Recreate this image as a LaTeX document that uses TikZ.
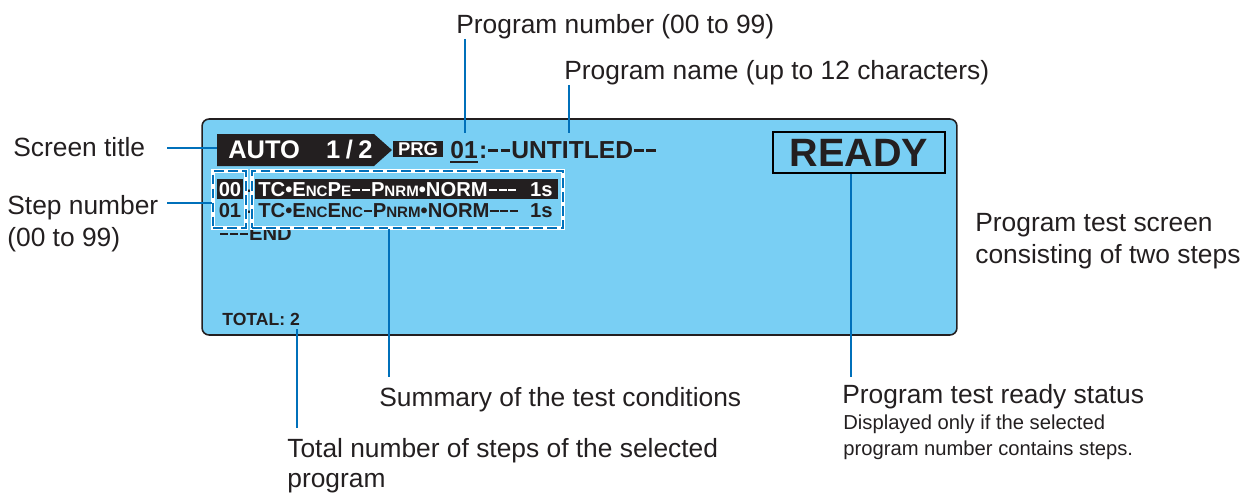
\documentclass[tikz,border=0pt]{standalone}
\usepackage{fontspec}
\usepackage{graphicx}
\setmainfont{Liberation Sans}
\usetikzlibrary{calc}
\definecolor{scr}{RGB}{121,207,244}
\definecolor{lead}{RGB}{0,112,186}
\definecolor{ink}{RGB}{35,31,32}
\newcommand\fsz[1]{\fontsize{#1}{#1}\selectfont}
\newcommand\smc[1]{{\fontsize{8.6}{8.6}\selectfont #1}}
\newcommand\dsh{\kern0.045em\rule[0.25em]{0.4em}{0.11em}\kern0.045em}
\begin{document}
\begin{tikzpicture}[x=0.02cm,y=-0.02cm,
  lbl/.style={inner sep=0pt,anchor=base west,text=ink,font=\fsz{15}},
  note/.style={inner sep=0pt,anchor=base west,text=ink,font=\fsz{11.5}},
  leader/.style={draw=lead,line width=1.1pt},
  row/.style={inner sep=0pt,anchor=base west,text=ink,font=\fsz{11.5}\bfseries},
  dbox/.style={draw=lead,line width=1pt,dash pattern=on 5.5pt off 2.5pt,
     preaction={draw=white,line width=2.4pt,solid},inner sep=0pt},
  scrt/.style={inner sep=0pt,anchor=base west,font=\fsz{14.5}\bfseries}]
\useasboundingbox (0,0) rectangle (1255,495);
% screen
\node[draw=ink,fill=scr,line width=0.9pt,rounded corners=4pt,minimum width=15.1cm,
      minimum height=4.32cm,inner sep=0pt] (screen) at (579.5,227) {};
% title banner
\fill[ink] (217,134) -- (374,134) -- (392,150) -- (374,166) -- (217,166) -- cycle;
\coordinate (bannerW) at (217,148);
\node[scrt,text=white] (auto) at (228,158) {AUTO};
\node[scrt,text=white,anchor=base east] (page) at (373,158) {1\kern0.22em/\kern0.22em2};
\node[fill=ink,text=white,font=\fsz{10.5}\bfseries,inner sep=0pt,minimum width=1cm,
      minimum height=0.32cm] (prg) at (418,149) {PRG};
\node[scrt,text=ink,font=\fsz{14}\bfseries] (num) at (450,158) {01};
\node[scrt,text=ink,font=\fsz{14}\bfseries] (pname) at (num.base east) {\kern0.03em:\dsh\dsh UNTITLED\dsh\dsh};
\draw[ink,line width=1.1pt] ($(num.base west)+(0,4)$) -- ($(num.base east)+(0,4)$);
% READY
\node[draw=black,line width=1.2pt,minimum width=3.44cm,minimum height=0.82cm,inner sep=0pt,
      text=ink,font=\fsz{22.5}\bfseries] (ready) at (859,152.5) {READY};
% rows
\fill[ink] (217,179) rectangle (243,199);
\fill[ink] (255,179) rectangle (558,199);
\node[row,anchor=base,text=white] (s00) at (230,196) {00};
\node[row,anchor=base] (h00) at (250,196) {-};
\node[row,text=white] (c00) at (258,196) {TC•E\smc{NC}P\smc{E}\dsh\dsh P\smc{NRM}•NORM\dsh\dsh\dsh};
\node[row,anchor=base east,text=white] (t00) at (553,196) {1s};
\node[row,anchor=base] (s01) at (230,217) {01};
\node[row,anchor=base] (h01) at (250,217) {-};
\node[row] (c01) at (258,217) {TC•E\smc{NC}E\smc{NC}\dsh P\smc{NRM}•NORM\dsh\dsh\dsh};
\node[row,anchor=base east] (t01) at (553,217) {1s};
\node[row] (endrow) at (219,240) {\dsh\dsh\dsh END};
\node[dbox,minimum width=0.66cm,minimum height=1.14cm] (stepbox) at (229.5,199.5) {};
\node[dbox,minimum width=6.22cm,minimum height=1.14cm] (condbox) at (407.5,199.5) {};
% total
\node[row,font=\fsz{10}\bfseries] (total) at (222,325) {TOTAL: 2};
% labels
\node[lbl] (pnuml) at (456,33) {Program number (00 to 99)};
\node[lbl] (pnamel) at (564,79) {Program name (up to 12 characters)};
\node[lbl] (stitle) at (13,156) {Screen title};
\node[lbl] (stepl1) at (7,214) {Step number};
\node[lbl] (stepl2) at (7,246) {(00 to 99)};
\node[lbl] (ptsl1) at (975,231) {Program test screen};
\node[lbl] (ptsl2) at (975,263) {consisting of two steps};
\node[lbl] (suml) at (379,406) {Summary of the test conditions};
\node[lbl] (totl1) at (287,457) {Total number of steps of the selected};
\node[lbl] (totl2) at (287,487) {program};
\node[lbl] (rdyl) at (842,403) {Program test ready status};
\node[note] (rdyn1) at (843,429) {Displayed only if the selected};
\node[note] (rdyn2) at (843,455) {program number contains steps.};
% leaders
\coordinate (a1) at (167,148);
\draw[leader] (a1) -- (bannerW);
\coordinate (a2) at (167,203);
\draw[leader] (a2) -- (a2 -| stepbox.west);
\coordinate (a3) at (465,133);
\draw[leader] (pnuml.south -| a3) -- (a3);
\coordinate (a4) at (569,133);
\draw[leader] (pnamel.south -| a4) -- (a4);
\coordinate (a5) at (389,377);
\draw[leader] (condbox.south -| a5) -- (a5);
\coordinate (a6t) at (297,329);
\coordinate (a6) at (297,428);
\draw[leader] (a6t) -- (a6);
\coordinate (a7) at (851,377);
\draw[leader] (ready.south -| a7) -- (a7);
\end{tikzpicture}
\end{document}
